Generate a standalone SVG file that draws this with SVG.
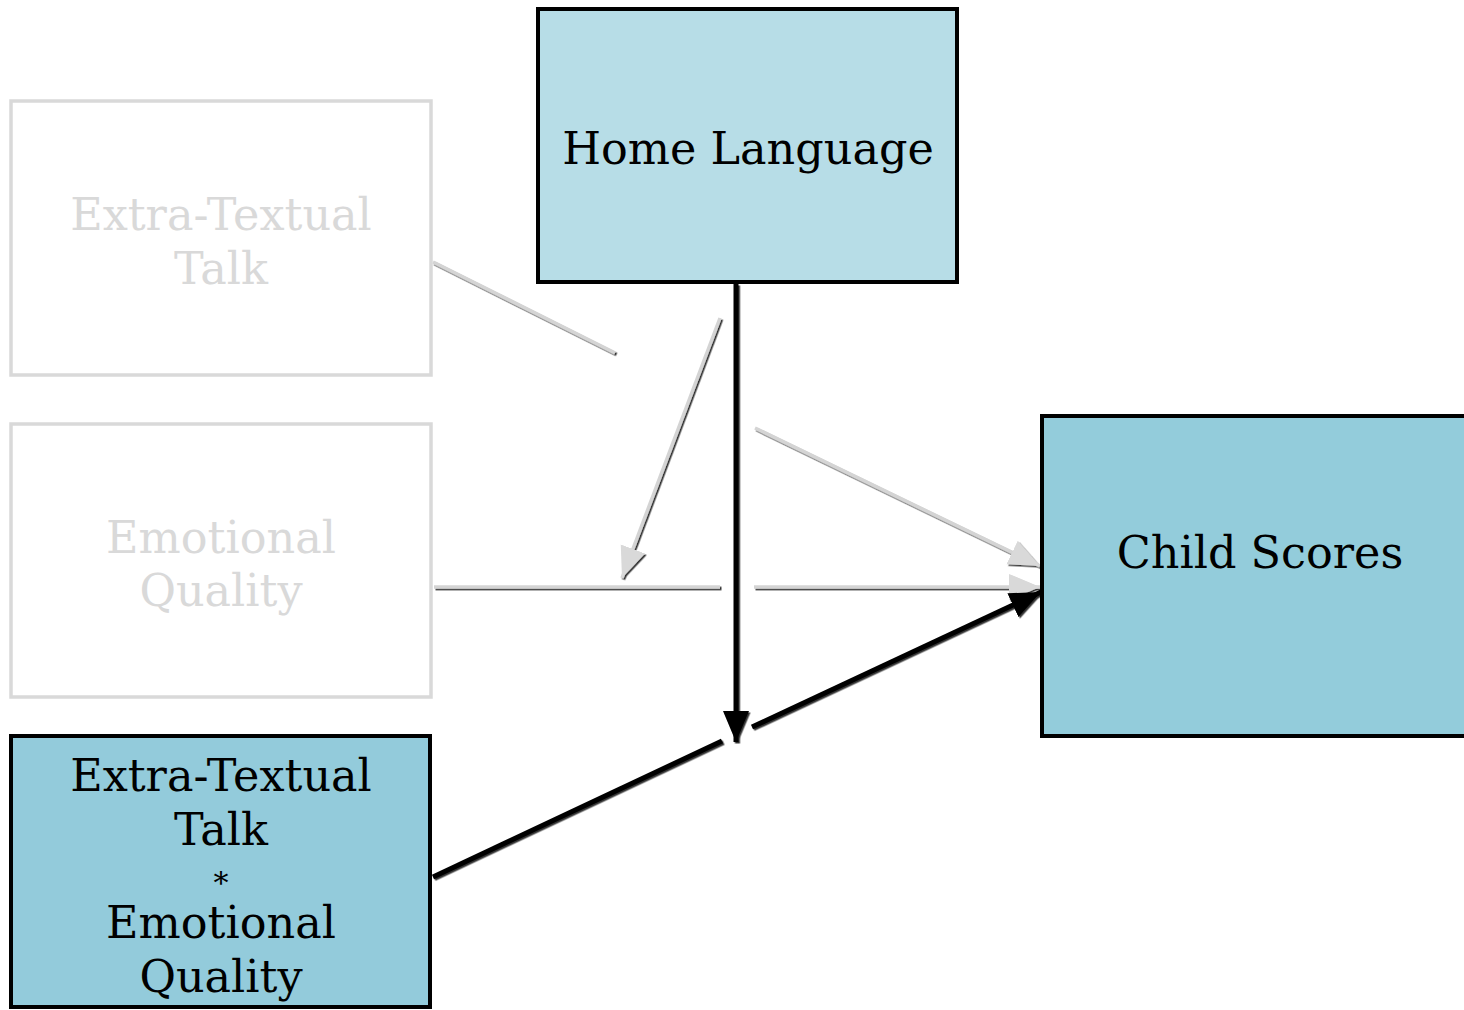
<svg xmlns="http://www.w3.org/2000/svg" width="1464" height="1010" viewBox="0 0 1464 1010">
<style>
text{font-family:"DejaVu Serif","Liberation Serif",serif;font-size:44.5px;text-anchor:middle}
.faded rect{fill:#fff;stroke:#d9d9d9;stroke-width:3.5}
.faded text{fill:#d9d9d9}
.solid rect{stroke:#000;stroke-width:4}
.solid text{fill:#000}
.g{stroke:#d4d4d4;stroke-width:3.5;fill:none;filter:url(#sh)}
.k{stroke:#000;stroke-width:5;fill:none;filter:url(#sh)}
</style>
<defs>
<filter id="sh" filterUnits="userSpaceOnUse" x="0" y="0" width="1464" height="1010">
<feDropShadow dx="1.5" dy="1.5" stdDeviation="0.6" flood-color="#000" flood-opacity="0.8"/>
</filter>
<marker id="ag" markerUnits="userSpaceOnUse" markerWidth="34" markerHeight="28" refX="31" refY="14" orient="auto">
<path d="M0,1 L31,14 L0,27 Z" fill="#d9d9d9"/>
</marker>
<marker id="ak" markerUnits="userSpaceOnUse" markerWidth="34" markerHeight="28" refX="31" refY="14" orient="auto">
<path d="M0,1 L31,14 L0,27 Z" fill="#000"/>
</marker>
</defs>
<rect width="1464" height="1010" fill="#fff"/>
<g id="connectors">
<line class="g" x1="433" y1="262" x2="615" y2="353"/>
<line class="g" x1="755" y1="428" x2="1040" y2="566" marker-end="url(#ag)"/>
<line class="g" x1="434" y1="587" x2="720" y2="587"/>
<line class="g" x1="754" y1="587" x2="1040" y2="587" marker-end="url(#ag)"/>
<line class="g" x1="720" y1="318" x2="622" y2="578" marker-end="url(#ag)"/>
<line class="k" x1="736" y1="284" x2="736" y2="742" marker-end="url(#ak)"/>
<line class="k" x1="433" y1="877" x2="722" y2="741"/>
<line class="k" x1="752" y1="727" x2="1041" y2="592" marker-end="url(#ak)"/>
</g>
<g id="node-ett" class="faded">
<rect x="11" y="101" width="420" height="274"/>
<text x="221" y="230">Extra-Textual</text>
<text x="221" y="284">Talk</text>
</g>
<g id="node-eq" class="faded">
<rect x="11" y="424" width="420" height="273"/>
<text x="221" y="553">Emotional</text>
<text x="221" y="606">Quality</text>
</g>
<g id="node-home" class="solid">
<rect x="538" y="9" width="419" height="273" fill="#b7dde7"/>
<text x="748" y="164">Home Language</text>
</g>
<g id="node-child" class="solid">
<rect x="1042" y="416" width="424" height="320" fill="#93ccdb"/>
<text x="1260" y="568">Child Scores</text>
</g>
<g id="node-inter" class="solid">
<rect x="11" y="736" width="419" height="271" fill="#93cbdb"/>
<text x="221" y="791">Extra-Textual</text>
<text x="221" y="845">Talk</text>
<text x="221" y="893" style="font-size:30px">*</text>
<text x="221" y="938">Emotional</text>
<text x="221" y="992">Quality</text>
</g>
</svg>
